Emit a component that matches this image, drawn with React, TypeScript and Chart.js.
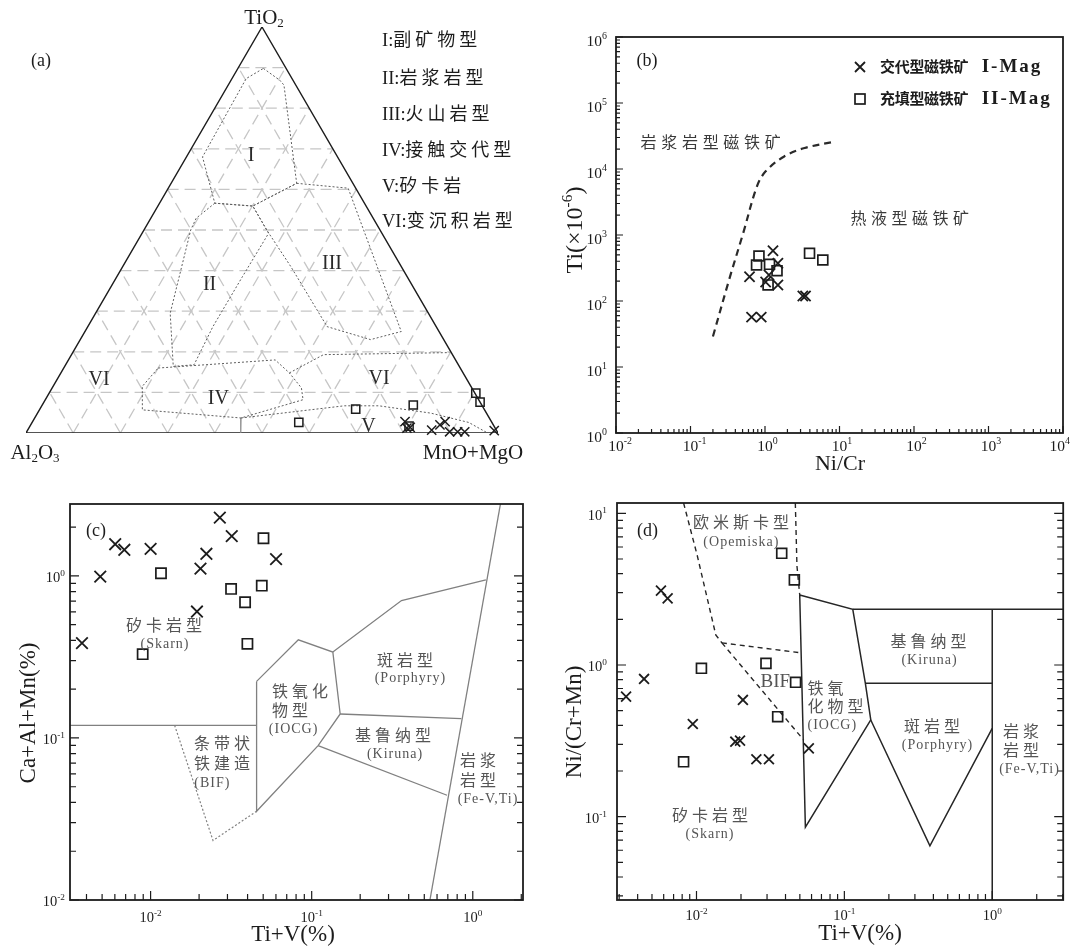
import { useEffect, useRef } from 'react';
import { Chart, registerables } from 'chart.js';

Chart.register(...registerables);

// ======================= DATA =======================
// (a) Ternary TiO2 – Al2O3 – (MnO+MgO), in %; Al2O3 = 100 − TiO2 − (MnO+MgO)
const aCrossTiO2 = [2.8, 1.4, 1.2, 0.7, 2.0, 2.8, 0.3, 0.3, 0.3, 0.6];
const aCrossMnOMgO = [78.9, 80.7, 80.1, 85.6, 86.7, 87.4, 89.6, 91.3, 92.8, 98.9];
const aSquareTiO2 = [2.6, 5.9, 6.9, 1.7, 9.8, 7.6];
const aSquareMnOMgO = [56.5, 66.9, 78.6, 80.3, 90.4, 92.4];
const aGridSteps = [10, 20, 30, 40, 50, 60, 70, 80, 90];
// field boundaries as [TiO2, MnO+MgO]
const aFieldI = [[89.8, 5.4], [86.9, 10.3], [85.7, 11.8], [66.4, 23.6], [61.5, 26.6], [55.9, 20.1], [56.6, 11.7], [68.0, 3.4], [87.3, 3.0], [89.8, 5.4]];
const aFieldII = [[56.6, 11.7], [52.9, 9.6], [50.0, 9.9], [29.5, 15.8], [16.4, 23.0], [16.8, 27.2], [26.2, 26.5], [38.5, 26.6], [49.2, 26.8], [50.0, 26.0], [55.9, 20.1], [56.6, 11.7]];
const aFieldIII = [[61.5, 26.6], [60.3, 38.1], [25.0, 67.0], [23.0, 61.5], [26.2, 50.7], [41.0, 35.6], [50.0, 26.0], [55.9, 20.1], [61.5, 26.6]];
const aFieldIV = [[16.0, 20.0], [18.0, 43.8], [14.8, 48.4], [11.1, 52.8], [8.2, 54.6], [3.7, 43.7], [5.7, 21.8], [11.5, 18.9], [16.0, 20.0]];
const aLineVI = [[14.8, 48.4], [19.3, 53.4], [19.8, 79.8]];
const aLineV = [[3.7, 43.7], [6.7, 64.1], [6.7, 71.4], [4.9, 83.3], [2.6, 92.5], [0, 97.8]];
const aBaseTick = [[3.7, 43.7], [0, 45.5]];

// (b) Ni/Cr vs Ti (ppm)
const bCrossNiCr = [1.28, 0.62, 1.49, 1.13, 1.49, 3.22, 3.5, 0.66, 0.89, 1.02];
const bCrossTi = [578, 233, 373, 248, 175, 119, 119, 57, 57, 194];
const bSquareNiCr = [0.83, 0.77, 1.15, 1.45, 1.1, 3.96, 5.97];
const bSquareTi = [481, 351, 360, 288, 175, 528, 418];
const bBoundaryNiCr = [0.2, 0.34, 0.51, 0.78, 1.02, 1.81, 3.4, 8.6];
const bBoundaryTi = [29, 236, 1070, 5460, 9220, 15500, 20800, 26000];
const bXTickExps = [-2, -1, 0, 1, 2, 3, 4];
const bYTickExps = [0, 1, 2, 3, 4, 5, 6];

// (c) Ti+V (%) vs Ca+Al+Mn (%)
const cCrossTiV = [0.00375, 0.00487, 0.00603, 0.00687, 0.01, 0.0204, 0.0222, 0.0194, 0.0269, 0.0319, 0.0601];
const cCrossCaAlMn = [0.385, 0.99, 1.57, 1.45, 1.47, 1.11, 1.37, 0.603, 2.29, 1.76, 1.27];
const cSquareTiV = [0.0116, 0.00893, 0.0316, 0.0386, 0.0399, 0.049, 0.0502];
const cSquareCaAlMn = [1.04, 0.329, 0.832, 0.688, 0.381, 0.871, 1.71];
const cSkarnTopTiV = [0.00316, 0.0455];
const cSkarnTopY = [0.1197, 0.1197];
const cBifTiV = [0.0141, 0.0244, 0.0455];
const cBifY = [0.1197, 0.0233, 0.0353];
const cIocgTiV = [0.0455, 0.0826, 0.1353, 0.1503, 0.1096, 0.0455, 0.0455];
const cIocgY = [0.2234, 0.4035, 0.339, 0.1406, 0.0897, 0.0353, 0.2234];
const cPorphTopTiV = [0.1353, 0.361, 1.206];
const cPorphTopY = [0.339, 0.705, 0.945];
const cPorphKirTiV = [0.1503, 0.849];
const cPorphKirY = [0.1406, 0.1315];
const cKirBotTiV = [0.1096, 0.692];
const cKirBotY = [0.0897, 0.0443];
const cMagmaTiV = [0.542, 1.485];
const cMagmaY = [0.01, 2.78];
const cXTickExps = [-2, -1, 0];
const cYTickExps = [-2, -1, 0];

// (d) Ti+V (%) vs Ni/(Cr+Mn)
const dCrossTiV = [0.00334, 0.00442, 0.00575, 0.00638, 0.00944, 0.0206, 0.0183, 0.0197, 0.0254, 0.0309, 0.0575];
const dCrossNi = [0.618, 0.809, 3.09, 2.75, 0.408, 0.588, 0.312, 0.317, 0.239, 0.239, 0.282];
const dSquareTiV = [0.00818, 0.0108, 0.0295, 0.0377, 0.0459, 0.0468, 0.0354];
const dSquareNi = [0.23, 0.951, 1.025, 5.45, 3.64, 0.769, 0.456];
const dIocgTiV = [0.0499, 0.114, 0.1387, 0.1509, 0.0545, 0.0499];
const dIocgY = [2.894, 2.33, 0.757, 0.434, 0.0851, 2.894];
const dTopTiV = [0.114, 3.02];
const dTopY = [2.33, 2.33];
const dKirPorTiV = [0.1387, 1.0];
const dKirPorY = [0.757, 0.757];
const dMagmaTiV = [1.0, 1.0];
const dMagmaY = [2.33, 0.0282];
const dPorphTiV = [0.1509, 0.379, 1.0];
const dPorphY = [0.434, 0.0641, 0.382];
const dOpeLeftTiV = [0.00818, 0.0101, 0.0135, 0.01485];
const dOpeLeftY = [11.7, 5.31, 1.58, 1.4];
const dOpeRightTiV = [0.0466, 0.0478, 0.0499];
const dOpeRightY = [11.7, 4.5, 2.894];
const dBifTopTiV = [0.01485, 0.0499];
const dBifTopY = [1.4, 1.206];
const dBifBotTiV = [0.01485, 0.0531];
const dBifBotY = [1.4, 0.32];
const dXTickExps = [-2, -1, 0];
const dYTickExps = [-1, 0, 1];

// ======================= HELPERS =======================
const INK = '#1c1c1c';
const SERIF = "'Liberation Serif','Times New Roman',serif";
const CJK = "'Noto Sans CJK SC','Noto Sans CJK JP',sans-serif";

type Seg = { t: string; size: number; fam?: 'serif' | 'cjk'; bold?: boolean; dy?: number; ls?: number };
type TextItem = { segs: Seg[]; x: number; y: number; align?: 'left' | 'center' | 'right'; color?: string; rot?: number };

const S = (t: string, size: number, o: Partial<Seg> = {}): Seg => ({ t, size, fam: 'serif', ...o });
const C = (t: string, size: number, o: Partial<Seg> = {}): Seg => ({ t, size, fam: 'cjk', ...o });
const sup = (t: string, size: number): Seg => ({ t, size: size * 0.64, fam: 'serif', dy: -size * 0.42 });
const sub = (t: string, size: number): Seg => ({ t, size: size * 0.62, fam: 'serif', dy: size * 0.18 });

function setFont(ctx: CanvasRenderingContext2D, s: Seg) {
  ctx.font = `${s.bold ? 'bold ' : ''}${s.size}px ${s.fam === 'cjk' ? CJK : SERIF}`;
  (ctx as any).letterSpacing = `${s.ls || 0}px`;
}

function measureSegs(ctx: CanvasRenderingContext2D, segs: Seg[]) {
  return segs.map((s) => {
    setFont(ctx, s);
    return ctx.measureText(s.t).width;
  });
}

function drawItem(ctx: CanvasRenderingContext2D, it: TextItem) {
  ctx.save();
  ctx.translate(it.x, it.y);
  if (it.rot) ctx.rotate(it.rot);
  const widths = measureSegs(ctx, it.segs);
  const total = widths.reduce((a, b) => a + b, 0);
  let x = it.align === 'left' ? 0 : it.align === 'right' ? -total : -total / 2;
  const base = it.segs[0].size * 0.36;
  ctx.fillStyle = it.color || INK;
  ctx.textAlign = 'left';
  ctx.textBaseline = 'alphabetic';
  it.segs.forEach((s, i) => {
    setFont(ctx, s);
    ctx.fillText(s.t, x, base + (s.dy || 0));
    x += widths[i];
  });
  (ctx as any).letterSpacing = '0px';
  ctx.restore();
}

const T = (segs: Seg[], x: number, y: number, color?: string, align: 'left' | 'center' | 'right' = 'center', rot = 0): TextItem => ({ segs, x, y, color, align, rot });

const pairs = (xs: number[], ys: number[]) => xs.map((x, i) => ({ x, y: ys[i] }));
const tern = (ti: number, mm: number) => ({ x: (mm + ti / 2) / 100, y: (ti / 100) * (Math.sqrt(3) / 2) });
const ternPts = (arr: number[][]) => arr.map(([t, m]) => tern(t, m));

function lineDS(data: any[], color: string, width: number, dash: number[] = [], order = 2, tension = 0) {
  return { data, showLine: true, borderColor: color, borderWidth: width, borderDash: dash, pointRadius: 0, pointHoverRadius: 0, fill: false, tension, order, borderCapStyle: 'butt', borderJoinStyle: 'miter' };
}
function markDS(data: any[], style: string, r: number, bw: number) {
  return {
    data, showLine: false, pointStyle: style, pointRadius: r, pointHoverRadius: r, clip: false,
    borderColor: INK, pointBorderColor: INK, backgroundColor: 'rgba(0,0,0,0)', pointBackgroundColor: 'rgba(0,0,0,0)',
    borderWidth: bw, pointBorderWidth: bw, order: 0,
  };
}

function logTickValues(min: number, max: number) {
  const out: { v: number; major: boolean }[] = [];
  for (let e = Math.floor(Math.log10(min)); e <= Math.ceil(Math.log10(max)); e++) {
    for (let k = 1; k < 10; k++) {
      const v = k * Math.pow(10, e);
      if (v >= min * 0.9999 && v <= max * 1.0001) out.push({ v, major: k === 1 });
    }
  }
  return out;
}

type FrameCfg = {
  sides: { left?: boolean; right?: boolean; bottom?: boolean; top?: boolean };
  minor: number; major: number; boxW: number;
  xExps: number[]; yExps: number[];
  labSize: number; yGap: number; yDy: number; xDy: number; x10Center: boolean;
};

function makePlugin(texts: TextItem[], frame?: FrameCfg, extra?: (ctx: CanvasRenderingContext2D) => void) {
  return {
    id: 'decor',
    afterDraw(chart: any) {
      const ctx: CanvasRenderingContext2D = chart.ctx;
      const a = chart.chartArea;
      ctx.save();
      if (frame) {
        const xs = chart.scales.x;
        const ys = chart.scales.y;
        ctx.strokeStyle = INK;
        ctx.lineWidth = 1.2;
        ctx.beginPath();
        for (const t of logTickValues(xs.min, xs.max)) {
          const p = xs.getPixelForValue(t.v);
          const L = t.major ? frame.major : frame.minor;
          if (frame.sides.bottom) { ctx.moveTo(p, a.bottom); ctx.lineTo(p, a.bottom - L); }
          if (frame.sides.top) { ctx.moveTo(p, a.top); ctx.lineTo(p, a.top + L); }
        }
        for (const t of logTickValues(ys.min, ys.max)) {
          const p = ys.getPixelForValue(t.v);
          const L = t.major ? frame.major : frame.minor;
          if (frame.sides.left) { ctx.moveTo(a.left, p); ctx.lineTo(a.left + L, p); }
          if (frame.sides.right) { ctx.moveTo(a.right, p); ctx.lineTo(a.right - L, p); }
        }
        ctx.stroke();
        ctx.lineWidth = frame.boxW;
        ctx.strokeRect(a.left, a.top, a.right - a.left, a.bottom - a.top);
        const sz = frame.labSize;
        for (const e of frame.xExps) {
          const p = xs.getPixelForValue(Math.pow(10, e));
          const segs = [S('10', sz), sup(String(e), sz)];
          const ws = measureSegs(ctx, segs);
          const total = ws[0] + ws[1];
          let left = frame.x10Center ? p - ws[0] / 2 : p - total / 2;
          if (left + total > chart.width - 2) left = chart.width - 2 - total;
          drawItem(ctx, T(segs, left, a.bottom + frame.xDy, INK, 'left'));
        }
        for (const e of frame.yExps) {
          const p = ys.getPixelForValue(Math.pow(10, e));
          drawItem(ctx, T([S('10', sz), sup(String(e), sz)], a.left - frame.yGap, p + frame.yDy, INK, 'right'));
        }
      }
      if (extra) extra(ctx);
      for (const it of texts) drawItem(ctx, it);
      ctx.restore();
    },
  };
}

function baseConfig(datasets: any[], scales: any, padding: any, plugin: any) {
  return {
    type: 'scatter',
    data: { datasets },
    options: {
      responsive: false,
      maintainAspectRatio: false,
      animation: false,
      devicePixelRatio: 1,
      events: [],
      layout: { padding },
      plugins: { legend: { display: false }, tooltip: { enabled: false } },
      scales,
    },
    plugins: [plugin],
  };
}

// ======================= PANEL (a) =======================
function configA() {
  const GRID = '#c6c6c6';
  const FIELD = '#5e5e5e';
  const ds: any[] = [
    markDS(pairs(aCrossTiO2, aCrossMnOMgO).map((p) => tern(p.x, p.y)), 'crossRot', 6.5, 1.5),
    markDS(pairs(aSquareTiO2, aSquareMnOMgO).map((p) => tern(p.x, p.y)), 'rect', 5.8, 1.5),
  ];
  for (const f of [aFieldI, aFieldII, aFieldIII, aFieldIV, aLineVI, aLineV]) ds.push(lineDS(ternPts(f), FIELD, 1, [2, 2], 2));
  ds.push(lineDS(ternPts(aBaseTick), '#888', 1.2, [], 2));
  ds.push(lineDS([tern(0, 0), tern(0, 100), tern(100, 0), tern(0, 0)], INK, 1.4, [], 3));
  for (const k of aGridSteps) {
    ds.push(lineDS([tern(k, 0), tern(k, 100 - k)], GRID, 1.3, [11, 6], 5));
    ds.push(lineDS([tern(0, k), tern(100 - k, k)], GRID, 1.3, [11, 6], 5));
    ds.push(lineDS([tern(0, 100 - k), tern(100 - k, 0)], GRID, 1.3, [11, 6], 5));
  }
  const R = '#2a2a2a';
  const legendRows: [string, string][] = [['I:', '副矿物型'], ['II:', '岩浆岩型'], ['III:', '火山岩型'], ['IV:', '接触交代型'], ['V:', '矽卡岩'], ['VI:', '变沉积岩型']];
  const legendY = [39.6, 76.9, 113.5, 149.5, 185, 220.7];
  const texts: TextItem[] = [
    T([S('(a)', 18)], 41, 60),
    T([S('TiO', 21), sub('2', 21)], 264, 16),
    T([S('Al', 21), sub('2', 21), S('O', 21), sub('3', 21)], 35, 451),
    T([S('MnO+MgO', 21)], 473, 451),
    T([S('I', 20)], 251, 153.5, R),
    T([S('II', 20)], 209.6, 283, R),
    T([S('III', 20)], 332, 261.7, R),
    T([S('IV', 20)], 218.3, 396.5, R),
    T([S('V', 20)], 368.5, 424.7, R),
    T([S('VI', 20)], 99, 378, R),
    T([S('VI', 20)], 379, 376.6, R),
    ...legendRows.map((r, i) => T([S(r[0], 18.5), C(r[1], 18, { ls: 4 })], 382, legendY[i], INK, 'left')),
  ];
  return baseConfig(
    ds,
    { x: { type: 'linear', min: 0, max: 1, display: false }, y: { type: 'linear', min: 0, max: Math.sqrt(3) / 2, display: false } },
    { left: 26, right: 42, top: 27, bottom: 37 },
    makePlugin(texts),
  );
}

// ======================= PANEL (b) =======================
function configB() {
  const ds: any[] = [
    markDS(pairs(bCrossNiCr, bCrossTi), 'crossRot', 7.2, 1.8),
    markDS(pairs(bSquareNiCr, bSquareTi), 'rect', 7, 1.7),
    lineDS(pairs(bBoundaryNiCr, bBoundaryTi), '#2a2a2a', 2.2, [7, 5], 1, 0.35),
  ];
  const G = '#3a3a3a';
  const texts: TextItem[] = [
    T([S('(b)', 18)], 107, 60),
    T([C('交代型磁铁矿', 15, { bold: true, ls: -0.3 }), S('  I-Mag', 19, { bold: true, ls: 2 })], 340, 67, INK, 'left'),
    T([C('充填型磁铁矿', 15, { bold: true, ls: -0.3 }), S('  II-Mag', 19, { bold: true, ls: 2 })], 340, 99, INK, 'left'),
    T([C('岩浆岩型磁铁矿', 16, { ls: 4.7 })], 173, 142, G),
    T([C('热液型磁铁矿', 16, { ls: 4.5 })], 372, 218.3, G),
    T([S('Ni/Cr', 22)], 300, 462),
    T([S('Ti(×10', 24), sup('-6', 24), S(')', 24)], 33, 230, INK, 'center', -Math.PI / 2),
  ];
  const extra = (ctx: CanvasRenderingContext2D) => {
    ctx.strokeStyle = INK;
    ctx.lineWidth = 1.8;
    ctx.beginPath();
    ctx.moveTo(315, 62); ctx.lineTo(325, 72);
    ctx.moveTo(315, 72); ctx.lineTo(325, 62);
    ctx.stroke();
    ctx.lineWidth = 1.7;
    ctx.strokeRect(315, 94, 10, 10);
  };
  const frame: FrameCfg = {
    sides: { left: true, bottom: true }, minor: 4, major: 7, boxW: 1.8,
    xExps: bXTickExps, yExps: bYTickExps, labSize: 15.5, yGap: 9, yDy: 3, xDy: 12, x10Center: true,
  };
  return baseConfig(
    ds,
    { x: { type: 'logarithmic', min: 0.01, max: 10000, display: false }, y: { type: 'logarithmic', min: 1, max: 1e6, display: false } },
    { left: 76, right: 8, top: 37, bottom: 42 },
    makePlugin(texts, frame, extra),
  );
}

// ======================= PANEL (c) =======================
function configC() {
  const L = '#808080';
  const ds: any[] = [
    markDS(pairs(cCrossTiV, cCrossCaAlMn), 'crossRot', 8.2, 1.8),
    markDS(pairs(cSquareTiV, cSquareCaAlMn), 'rect', 7.2, 1.7),
    lineDS(pairs(cSkarnTopTiV, cSkarnTopY), L, 1.3),
    lineDS(pairs(cBifTiV, cBifY), L, 1.2, [2, 2]),
    lineDS(pairs(cIocgTiV, cIocgY), L, 1.3),
    lineDS(pairs(cPorphTopTiV, cPorphTopY), L, 1.3),
    lineDS(pairs(cPorphKirTiV, cPorphKirY), L, 1.3),
    lineDS(pairs(cKirBotTiV, cKirBotY), L, 1.3),
    lineDS(pairs(cMagmaTiV, cMagmaY), L, 1.3),
  ];
  const G = '#555';
  const cz = (t: string, x: number, y: number) => T([C(t, 16, { ls: 4 })], x, y, G);
  const en = (t: string, x: number, y: number) => T([S(t, 14, { ls: 1 })], x, y, G);
  const texts: TextItem[] = [
    T([S('(c)', 18)], 96, 60),
    cz('矽卡岩型', 166, 155), en('(Skarn)', 165, 172.7),
    cz('斑岩型', 407, 190), en('(Porphyry)', 410.4, 207.3),
    cz('铁氧化', 302, 221.7), cz('物型', 292, 240), en('(IOCG)', 293.6, 258.3),
    cz('基鲁纳型', 395, 265), en('(Kiruna)', 395, 283.3),
    cz('条带状', 224, 273.3), cz('铁建造', 224, 293.3), en('(BIF)', 212.4, 311.7),
    cz('岩浆', 480, 290), cz('岩型', 480, 310), en('(Fe-V,Ti)', 488, 328.3),
    T([S('Ca+Al+Mn(%)', 23)], 27, 243, INK, 'center', -Math.PI / 2),
    T([S('Ti+V(%)', 23)], 293, 463),
  ];
  const frame: FrameCfg = {
    sides: { left: true, right: true, bottom: true }, minor: 6, major: 9, boxW: 1.8,
    xExps: cXTickExps, yExps: cYTickExps, labSize: 14.5, yGap: 5, yDy: 1, xDy: 17, x10Center: false,
  };
  return baseConfig(
    ds,
    { x: { type: 'logarithmic', min: 0.00316, max: 2.05, display: false }, y: { type: 'logarithmic', min: 0.01, max: 2.78, display: false } },
    { left: 70, right: 17, top: 34, bottom: 49 },
    makePlugin(texts, frame),
  );
}

// ======================= PANEL (d) =======================
function configD() {
  const L = '#262626';
  const ds: any[] = [
    markDS(pairs(dCrossTiV, dCrossNi), 'crossRot', 7, 1.8),
    markDS(pairs(dSquareTiV, dSquareNi), 'rect', 7, 1.7),
    lineDS(pairs(dIocgTiV, dIocgY), L, 1.5),
    lineDS(pairs(dTopTiV, dTopY), L, 1.5),
    lineDS(pairs(dKirPorTiV, dKirPorY), L, 1.5),
    lineDS(pairs(dMagmaTiV, dMagmaY), L, 1.5),
    lineDS(pairs(dPorphTiV, dPorphY), L, 1.5),
    lineDS(pairs(dOpeLeftTiV, dOpeLeftY), L, 1.4, [5, 4]),
    lineDS(pairs(dOpeRightTiV, dOpeRightY), L, 1.4, [5, 4]),
    lineDS(pairs(dBifTopTiV, dBifTopY), L, 1.4, [5, 4]),
    lineDS(pairs(dBifBotTiV, dBifBotY), L, 1.4, [5, 4]),
  ];
  const G = '#555';
  const cz = (t: string, x: number, y: number, al: 'left' | 'center' = 'center') => T([C(t, 16, { ls: 4 })], x, y, G, al);
  const en = (t: string, x: number, y: number, al: 'left' | 'center' = 'center') => T([S(t, 14, { ls: 1 })], x, y, G, al);
  const texts: TextItem[] = [
    T([S('(d)', 18)], 107.5, 60),
    cz('欧米斯卡型', 203, 52.7), en('(Opemiska)', 201.4, 70.7),
    cz('基鲁纳型', 390.5, 171.7), en('(Kiruna)', 389.5, 189.3),
    T([S('BIF', 19)], 235.3, 210, G),
    cz('铁氧', 267.5, 218.3, 'left'), cz('化物型', 267.5, 236.7, 'left'), en('(IOCG)', 267.5, 254, 'left'),
    cz('斑岩型', 394, 256.7), en('(Porphyry)', 397.5, 274),
    cz('岩浆', 483, 261.7), cz('岩型', 483, 280), en('(Fe-V,Ti)', 489.5, 297.7),
    cz('矽卡岩型', 172, 345), en('(Skarn)', 170, 362.7),
    T([S('Ni/(Cr+Mn)', 23)], 33, 252, INK, 'center', -Math.PI / 2),
    T([S('Ti+V(%)', 23)], 320, 462),
  ];
  const frame: FrameCfg = {
    sides: { left: true, right: true, bottom: true }, minor: 6, major: 9, boxW: 1.8,
    xExps: dXTickExps, yExps: dYTickExps, labSize: 14.5, yGap: 10, yDy: 1, xDy: 15, x10Center: false,
  };
  return baseConfig(
    ds,
    { x: { type: 'logarithmic', min: 0.0029, max: 3.02, display: false }, y: { type: 'logarithmic', min: 0.0282, max: 11.7, display: false } },
    { left: 77, right: 8, top: 33, bottom: 49 },
    makePlugin(texts, frame),
  );
}

// ======================= REACT =======================
function Panel({ left, top, width, height, make }: { left: number; top: number; width: number; height: number; make: () => any }) {
  const ref = useRef<HTMLCanvasElement>(null);
  useEffect(() => {
    const chart = new Chart(ref.current as HTMLCanvasElement, make());
    return () => chart.destroy();
  }, [make]);
  return <canvas ref={ref} width={width} height={height} style={{ position: 'absolute', left, top, width, height }} />;
}

export default function App() {
  return (
    <div style={{ position: 'absolute', left: 0, top: 0, width: 1072, height: 949, background: '#ffffff', overflow: 'hidden' }}>
      <Panel left={0} top={0} width={540} height={470} make={configA} />
      <Panel left={540} top={0} width={532} height={475} make={configB} />
      <Panel left={0} top={470} width={540} height={479} make={configC} />
      <Panel left={540} top={470} width={532} height={479} make={configD} />
    </div>
  );
}
